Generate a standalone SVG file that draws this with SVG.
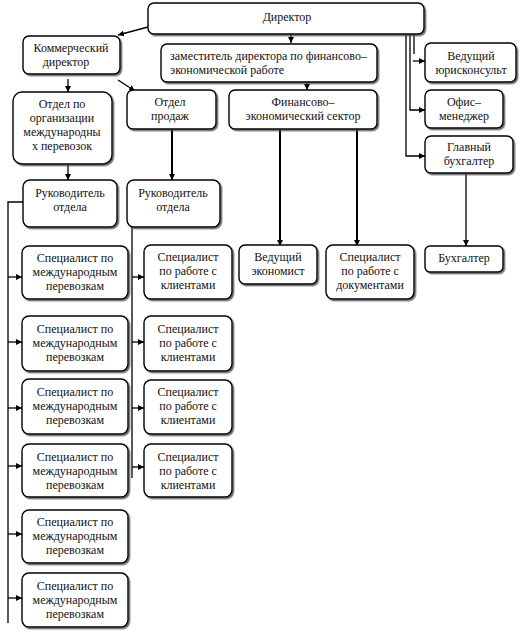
<svg xmlns="http://www.w3.org/2000/svg" width="522" height="633" viewBox="0 0 522 633">
<defs>
<style>
.b{fill:#fff;stroke:#000;stroke-width:1.4;filter:url(#sh)}
.t{font-family:"Liberation Serif","Times New Roman",serif;font-size:12px;fill:#111;text-anchor:middle}
.l{text-anchor:start}
.c{fill:none;stroke:#000;stroke-width:1.3}
.k{stroke-width:2}
</style>
<filter id="sh" x="-10%" y="-10%" width="130%" height="130%">
<feDropShadow dx="1.5" dy="1.5" stdDeviation="0.6" flood-color="#444" flood-opacity="0.8"/>
</filter>
<marker id="a" viewBox="0 0 10 10" refX="10" refY="5" markerWidth="6" markerHeight="6" markerUnits="userSpaceOnUse" orient="auto">
<path d="M0,0 L10,5 L0,10 z" fill="#000"/>
</marker>
</defs>
<rect width="522" height="633" fill="#fff"/>
<g id="connectors">
<path class="c" d="M148,27 L118,35" marker-end="url(#a)"/>
<path class="c" d="M291,34 L291,43" marker-end="url(#a)"/>
<path class="c" d="M68,79 L68,92" marker-end="url(#a)"/>
<path class="c" d="M118,80 L135,91" marker-end="url(#a)"/>
<path class="c" d="M307,82 L307,90" marker-end="url(#a)"/>
<path class="c" d="M414,34 L414,54"/>
<path class="c" d="M413,61 L425,61" marker-end="url(#a)"/>
<path class="c" d="M410,34 L410,110 L425,110" marker-end="url(#a)"/>
<path class="c" d="M406,34 L406,156 L425,156" marker-end="url(#a)"/>
<path class="c" d="M466,173 L466,246" marker-end="url(#a)"/>
<path class="c k" d="M280,129 L280,246" marker-end="url(#a)"/>
<path class="c k" d="M357,129 L357,246" marker-end="url(#a)"/>
<path class="c" d="M68,164 L68,180" marker-end="url(#a)"/>
<path class="c k" d="M172,129 L172,180" marker-end="url(#a)"/>
<path class="c" d="M23,202 L8,202 L8,623"/>
<path class="c" d="M8,277 L22,277" marker-end="url(#a)"/>
<path class="c" d="M8,342 L22,342" marker-end="url(#a)"/>
<path class="c" d="M8,408 L22,408" marker-end="url(#a)"/>
<path class="c" d="M8,466 L22,466" marker-end="url(#a)"/>
<path class="c" d="M8,534 L22,534" marker-end="url(#a)"/>
<path class="c" d="M8,598 L22,598" marker-end="url(#a)"/>
<path class="c" d="M132,224 L132,478"/>
<path class="c" d="M132,277 L144,277" marker-end="url(#a)"/>
<path class="c" d="M132,342 L144,342" marker-end="url(#a)"/>
<path class="c" d="M132,408 L144,408" marker-end="url(#a)"/>
<path class="c" d="M132,467 L144,467" marker-end="url(#a)"/>
</g>
<g id="director"><rect class="b" x="148" y="3" width="276" height="31" rx="6"/><text class="t" x="287" y="21">Директор</text></g>
<g id="commercial"><rect class="b" x="23" y="36" width="97" height="38" rx="6"/><text class="t" x="71" y="52">Коммерческий</text><text class="t" x="66" y="66">директор</text></g>
<g id="deputy"><rect class="b" x="161" y="44" width="216" height="38" rx="6"/><text class="t l" x="170" y="60">заместитель директора по финансово–</text><text class="t l" x="170" y="74">экономической работе</text></g>
<g id="intl-dept"><rect class="b" x="13" y="92" width="99" height="72" rx="9"/><text class="t" x="62" y="108">Отдел по</text><text class="t" x="62" y="122">организации</text><text class="t" x="62" y="136">международны</text><text class="t" x="62" y="150">х перевозок</text></g>
<g id="sales-dept"><rect class="b" x="127" y="90" width="89" height="39" rx="6"/><text class="t" x="170" y="106">Отдел</text><text class="t" x="170" y="120">продаж</text></g>
<g id="fin-sector"><rect class="b" x="229" y="90" width="148" height="39" rx="6"/><text class="t" x="303" y="106">Финансово–</text><text class="t" x="303" y="120">экономический сектор</text></g>
<g id="lawyer"><rect class="b" x="425" y="43" width="91" height="39" rx="6"/><text class="t" x="471" y="60">Ведущий</text><text class="t" x="471" y="74">юрисконсульт</text></g>
<g id="office"><rect class="b" x="425" y="90" width="78" height="38" rx="6"/><text class="t" x="464" y="106">Офис–</text><text class="t" x="464" y="120">менеджер</text></g>
<g id="chief-acc"><rect class="b" x="425" y="136" width="88" height="37" rx="6"/><text class="t" x="469" y="151">Главный</text><text class="t" x="469" y="165">бухгалтер</text></g>
<g id="accountant"><rect class="b" x="425" y="246" width="78" height="26" rx="5"/><text class="t" x="464" y="262">Бухгалтер</text></g>
<g id="economist"><rect class="b" x="239" y="245" width="78" height="39" rx="6"/><text class="t" x="278" y="261">Ведущий</text><text class="t" x="278" y="275">экономист</text></g>
<g id="doc-spec"><rect class="b" x="326" y="245" width="88" height="54" rx="7"/><text class="t" x="370" y="261">Специалист</text><text class="t" x="370" y="275">по работе с</text><text class="t" x="370" y="289">документами</text></g>
<g id="head-intl"><rect class="b" x="23" y="180" width="94" height="47" rx="7"/><text class="t" x="70" y="197">Руководитель</text><text class="t" x="70" y="211">отдела</text></g>
<g id="head-sales"><rect class="b" x="127" y="180" width="93" height="47" rx="7"/><text class="t" x="173" y="197">Руководитель</text><text class="t" x="173" y="211">отдела</text></g>
<g id="intl1"><rect class="b" x="22" y="246" width="106" height="53" rx="7"/><text class="t" x="75" y="262">Специалист по</text><text class="t" x="75" y="276">международным</text><text class="t" x="75" y="290">перевозкам</text></g>
<g id="intl2"><rect class="b" x="22" y="316" width="106" height="55" rx="7"/><text class="t" x="75" y="333">Специалист по</text><text class="t" x="75" y="347">международным</text><text class="t" x="75" y="361">перевозкам</text></g>
<g id="intl3"><rect class="b" x="22" y="379" width="106" height="55" rx="7"/><text class="t" x="75" y="396">Специалист по</text><text class="t" x="75" y="410">международным</text><text class="t" x="75" y="424">перевозкам</text></g>
<g id="intl4"><rect class="b" x="22" y="444" width="106" height="53" rx="7"/><text class="t" x="75" y="461">Специалист по</text><text class="t" x="75" y="475">международным</text><text class="t" x="75" y="489">перевозкам</text></g>
<g id="intl5"><rect class="b" x="22" y="510" width="106" height="53" rx="7"/><text class="t" x="75" y="526">Специалист по</text><text class="t" x="75" y="540">международным</text><text class="t" x="75" y="554">перевозкам</text></g>
<g id="intl6"><rect class="b" x="22" y="573" width="106" height="54" rx="7"/><text class="t" x="75" y="590">Специалист по</text><text class="t" x="75" y="604">международным</text><text class="t" x="75" y="618">перевозкам</text></g>
<g id="client1"><rect class="b" x="144" y="245" width="88" height="54" rx="7"/><text class="t" x="188" y="261">Специалист</text><text class="t" x="188" y="275">по работе с</text><text class="t" x="188" y="289">клиентами</text></g>
<g id="client2"><rect class="b" x="144" y="316" width="88" height="55" rx="7"/><text class="t" x="188" y="333">Специалист</text><text class="t" x="188" y="347">по работе с</text><text class="t" x="188" y="361">клиентами</text></g>
<g id="client3"><rect class="b" x="144" y="380" width="88" height="54" rx="7"/><text class="t" x="188" y="396">Специалист</text><text class="t" x="188" y="410">по работе с</text><text class="t" x="188" y="424">клиентами</text></g>
<g id="client4"><rect class="b" x="144" y="444" width="88" height="53" rx="7"/><text class="t" x="188" y="461">Специалист</text><text class="t" x="188" y="475">по работе с</text><text class="t" x="188" y="489">клиентами</text></g>
</svg>
